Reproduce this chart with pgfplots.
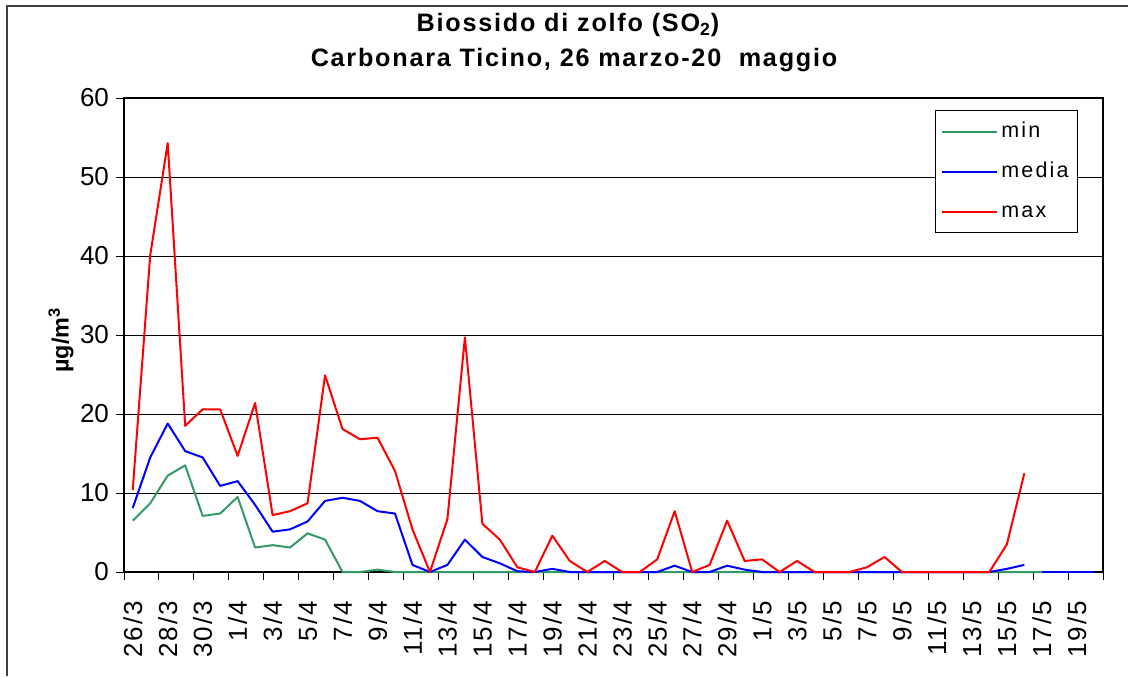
\documentclass[border=0pt]{standalone}
\usepackage{fontspec}
\setmainfont{Liberation Sans}
\newfontfamily\tickfont{Liberation Sans}
\newfontfamily\xtickfont{Liberation Sans}[LetterSpace=8]
\newfontfamily\legfont{Liberation Sans}[LetterSpace=10]
\newfontfamily\titfont{Liberation Sans}[LetterSpace=7]
\usepackage{pgfplots}
\usepackage{pgfplotstable}
\pgfplotsset{compat=1.18}
\definecolor{sgreen}{RGB}{51,153,102}

\pgfplotstableread{
x y
0 6.5
1 8.7
2 12.2
3 13.5
4 7.1
5 7.4
6 9.5
7 3.1
8 3.4
9 3.1
10 4.9
11 4.1
12 0
13 0
14 0.3
15 0
16 0
17 0
18 0
19 0
20 0
21 0
22 0
23 0
24 0
25 0
26 0
27 0
28 0
29 0
30 0
31 0
32 0
33 0
34 0
35 0
36 0
37 0
38 0
39 0
40 0
41 0
42 0
43 0
44 0
45 0
46 0
47 0
48 0
49 0
50 0
51 0
52 0
}\minT

\pgfplotstableread{
x y
0 8.1
1 14.5
2 18.8
3 15.3
4 14.5
5 10.9
6 11.5
7 8.5
8 5.1
9 5.4
10 6.4
11 9.0
12 9.4
13 9.0
14 7.7
15 7.4
16 0.9
17 0
18 0.9
19 4.1
20 1.9
21 1.1
22 0.1
23 0
24 0.4
25 0
26 0
27 0
28 0
29 0
30 0
31 0.8
32 0
33 0
34 0.8
35 0.3
36 0
37 0
38 0
39 0
40 0
41 0
42 0
43 0
44 0
45 0
46 0
47 0
48 0
49 0
50 0.4
51 0.9
}\medT

\pgfplotstableread{
x y
52 0
53 0
54 0
55 0
}\medTb

\pgfplotstableread{
x y
0 10.4
1 40.1
2 54.3
3 18.5
4 20.6
5 20.6
6 14.7
7 21.4
8 7.2
9 7.7
10 8.7
11 24.9
12 18.1
13 16.8
14 17.0
15 12.8
16 5.4
17 0
18 6.7
19 29.7
20 6.1
21 4.1
22 0.6
23 0
24 4.6
25 1.4
26 0
27 1.4
28 0
29 0
30 1.6
31 7.7
32 0
33 0.9
34 6.5
35 1.4
36 1.6
37 0
38 1.4
39 0
40 0
41 0
42 0.6
43 1.9
44 0
45 0
46 0
47 0
48 0
49 0
50 3.5
51 12.5
}\maxT

\begin{document}
\begin{tikzpicture}[x=1pt,y=1pt]
\useasboundingbox (0,0) rectangle (564,338);
\draw[line width=0.75pt, black!75] (3.5,0) -- (3.5,335) -- (564,335);
\node[anchor=base, font=\fontsize{12.6}{14}\selectfont\bfseries\titfont] at (284,322.1) {Biossido di zolfo (SO\textsubscript{2})};
\node[anchor=base, font=\fontsize{12.6}{14}\selectfont\bfseries\titfont] at (287,304.6) {Carbonara Ticino, 26 marzo-20~~maggio};
\node[rotate=90, font=\fontsize{11.7}{14}\selectfont\bfseries] at (30.5,168) {µg/m\textsuperscript{3}};
\begin{axis}[
  at={(62pt,52pt)}, anchor=south west,
  width=489.5pt, height=237pt, scale only axis,
  xmin=-0.5, xmax=55.5, ymin=0, ymax=60,
  ytick={0,10,...,60},
  ymajorgrids, grid style={black, line width=0.5pt},
  xtick={-0.5,1.5,...,55.5},
  xticklabels={},
  extra x ticks={0,2,4,6,8,10,12,14,16,18,20,22,24,26,28,30,32,34,36,38,40,42,44,46,48,50,52,54},
  extra x tick labels={26/3,28/3,30/3,1/4,3/4,5/4,7/4,9/4,11/4,13/4,15/4,17/4,19/4,21/4,23/4,25/4,27/4,29/4,1/5,3/5,5/5,7/5,9/5,11/5,13/5,15/5,17/5,19/5},
  extra x tick style={major tick length=0pt, xticklabel style={yshift=-11pt, rotate=90, anchor=east, font=\fontsize{13}{15}\selectfont\xtickfont}},
  tick align=outside,
  tick pos=left,
  major tick length=4pt,
  tick style={black, line width=0.5pt},
  axis line style={black, line width=0.6pt},
  /pgf/number format/assume math mode=true,
  yticklabel style={font=\fontsize{13}{15}\selectfont\tickfont},
  legend style={at={(0.9745,0.9747)}, anchor=north east, draw=black, line width=0.5pt, fill=white,
    font=\fontsize{10.75}{12}\selectfont\legfont, inner xsep=3pt, inner ysep=4pt, row sep=7pt,
    nodes={inner sep=1.5pt, text height=8pt, text depth=2pt}},
  legend cell align=left,
  legend image code/.code={\draw[#1] (0pt,0pt) -- (27.5pt,0pt);},
  clip=false,
]
\addplot[sgreen, line width=1pt, line join=round] table {\minT}; \addlegendentry{min}
\addplot[blue, line width=1pt, line join=round] table {\medT}; \addlegendentry{media}
\addplot[blue, line width=1pt, forget plot] table {\medTb};
\addplot[red, line width=1pt, line join=round] table {\maxT}; \addlegendentry{max}
\end{axis}
\end{tikzpicture}
\end{document}
